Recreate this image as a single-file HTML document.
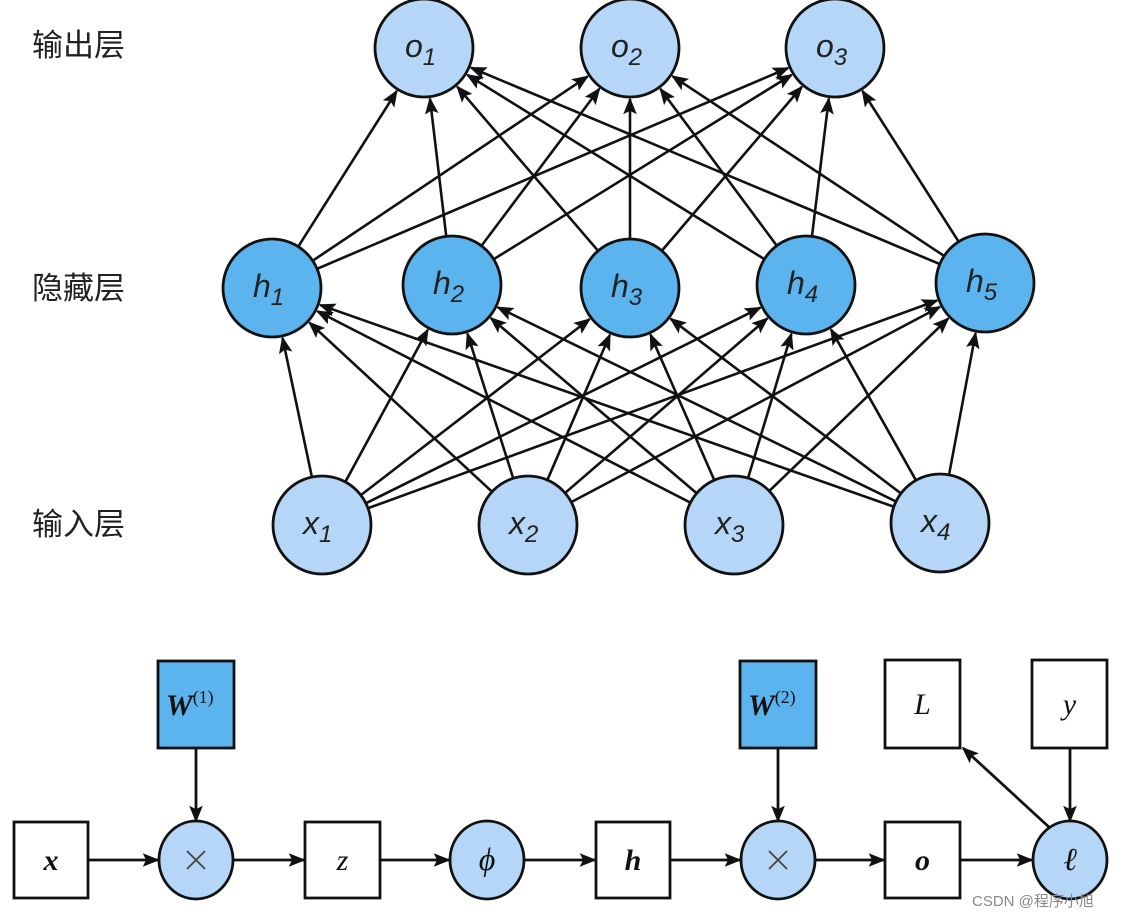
<!DOCTYPE html>
<html><head><meta charset="utf-8"><style>
html,body{margin:0;padding:0;background:#fff;width:1123px;height:918px;overflow:hidden}
svg{position:absolute;left:0;top:0}
</style></head><body>
<svg id="s" width="1123" height="918" xmlns="http://www.w3.org/2000/svg">
<defs>
<marker id="b" viewBox="0 0 10 10" refX="9" refY="5" markerWidth="17" markerHeight="17" markerUnits="userSpaceOnUse" orient="auto"><path d="M0,1 L10,5 L0,9 L2,5 z" fill="#111"/></marker></defs>
<g id="edges" stroke="#111" stroke-width="2.6" fill="none"></g>
<g id="nodes"></g>
<g font-family="'Liberation Sans','Noto Sans CJK SC',sans-serif" font-size="31" fill="#222">
<text x="32" y="56">输出层</text><text x="32" y="299">隐藏层</text><text x="32" y="535">输入层</text>
</g>
<g id="bot" stroke="#111" stroke-width="2.8"></g>
<text x="972" y="906" font-family="'Liberation Sans','Noto Sans CJK SC',sans-serif" font-size="15" fill="#888">CSDN @程序小旭</text>
</svg>
<script>
var NS="http://www.w3.org/2000/svg";
function el(t,a,p,txt){var e=document.createElementNS(NS,t);for(var k in a)e.setAttribute(k,a[k]);if(txt!==undefined)e.textContent=txt;document.getElementById(p).appendChild(e);return e;}
var O=[[424,48],[630,48],[835,48]],H=[[272,288],[452,285],[630,288],[806,285],[985,283]],X=[[322,525],[528,525],[734,525],[940,523]];
var R=50;
function edge(p,q,r1,r2){var dx=q[0]-p[0],dy=q[1]-p[1],d=Math.hypot(dx,dy),ux=dx/d,uy=dy/d;
el('line',{x1:p[0]+ux*r1,y1:p[1]+uy*r1,x2:q[0]-ux*r2,y2:q[1]-uy*r2,'marker-end':'url(#b)'},'edges');}
X.forEach(function(x){H.forEach(function(h){edge(x,h,R,R+1)})});
H.forEach(function(h){O.forEach(function(o){edge(h,o,R,R+1)})});
function node(c,fill,lab,sub){el('circle',{cx:c[0],cy:c[1],r:R-1,fill:fill,stroke:'#111','stroke-width':2.8},'nodes');
var t=el('text',{x:c[0]-19,y:c[1]+9,'font-family':'Liberation Sans,sans-serif','font-size':32,'font-style':'italic',fill:'#222'},'nodes');
t.textContent=lab;var s=document.createElementNS(NS,'tspan');s.setAttribute('font-size','24');s.setAttribute('dy','8');s.textContent=sub;t.appendChild(s);}
O.forEach(function(c,i){node(c,'#b5d6f6','o',i+1)});
H.forEach(function(c,i){node(c,'#5cb4ef','h',i+1)});
X.forEach(function(c,i){node(c,'#b5d6f6','x',i+1)});
function box(x,y,w,h,f,t,bold){el('rect',{x:x,y:y,width:w,height:h,fill:f},'bot');
el('text',{x:x+w/2,y:y+h/2+10,'text-anchor':'middle','font-family':'Liberation Serif,serif','font-size':30,'font-style':'italic','font-weight':bold?'bold':'normal',fill:'#111',stroke:'none'},'bot',t);}
function circ(cx,t,sym){el('ellipse',{cx:cx,cy:860,rx:37,ry:39,fill:'#b5d6f6'},'bot');
if(sym){el('path',{d:'M'+(cx-9)+',851 L'+(cx+9)+',869 M'+(cx+9)+',851 L'+(cx-9)+',869',stroke:'#444','stroke-width':1.8},'bot');}
else el('text',{x:cx,y:870,'text-anchor':'middle','font-family':'Liberation Serif,serif','font-size':32,'font-style':'italic',fill:'#111',stroke:'none'},'bot',t);}
function arr(x1,y1,x2,y2){el('line',{x1:x1,y1:y1,x2:x2,y2:y2,'marker-end':'url(#b)'},'bot');}
arr(88,860,158,860);arr(233,860,304,860);arr(380,860,449,860);arr(524,860,595,860);arr(670,860,740,860);arr(815,860,884,860);arr(960,860,1032,860);
arr(196,748,196,821);arr(778,748,778,821);arr(1070,748,1070,821);arr(1050,828,963,748);
box(14,822,74,76,'#fff','x',1);circ(196,'×',1);box(305,822,75,76,'#fff','z');circ(487,'ϕ');box(596,822,74,76,'#fff','h',1);circ(778,'×',1);box(885,822,75,76,'#fff','o',1);circ(1070,'ℓ');
box(885,660,75,88,'#fff','L');box(1032,660,75,88,'#fff','y');
function wbox(x,n){el('rect',{x:x,y:661,width:76,height:87,fill:'#5cb4ef'},'bot');
var t=el('text',{x:x+8,y:715,'font-family':'Liberation Serif,serif','font-size':30,'font-style':'italic','font-weight':'bold',fill:'#111',stroke:'none'},'bot','W');
var s=document.createElementNS(NS,'tspan');s.setAttribute('font-size','18');s.setAttribute('dy','-12');s.setAttribute('font-style','normal');s.setAttribute('font-weight','normal');s.textContent='('+n+')';t.appendChild(s);}
wbox(158,1);wbox(740,2);
</script>
</body></html>
